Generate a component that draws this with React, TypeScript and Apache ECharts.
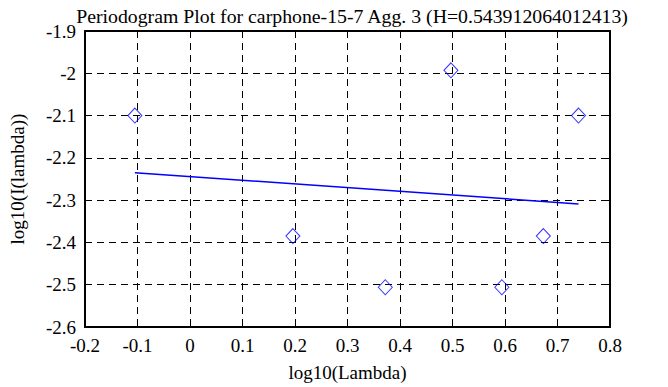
import React, { useEffect, useRef } from "react";
import * as echarts from "echarts";

const lambdaLog = [-0.105, 0.196, 0.372, 0.497, 0.594, 0.673, 0.74];
const periodogramLog = [-2.1, -2.385, -2.506, -1.993, -2.506, -2.385, -2.1];
const fitX = [-0.105, 0.74];
const fitY = [-2.235, -2.309];
const titleText = "Periodogram Plot for carphone-15-7 Agg. 3 (H=0.543912064012413)";

const FONT = "'Liberation Serif', 'Times New Roman', serif";

export default function App() {
  const ref = useRef<HTMLDivElement>(null);
  useEffect(() => {
    if (!ref.current) return;
    const chart = echarts.init(ref.current, undefined, { renderer: "svg" });
    const dash = { type: [7, 5] as any, color: "#000", width: 1 };
    const fmt = (v: number) => String(Math.round(v * 10) / 10);
    const frame = { show: true, onZero: false, lineStyle: { color: "#000", width: 2 } };
    const tick = { show: true, inside: true, length: 5, lineStyle: { color: "#000", width: 1 } };
    chart.setOption({
      animation: false,
      backgroundColor: "#fff",
      title: {
        text: titleText,
        left: 347,
        textAlign: "center",
        top: 1,
        textStyle: { fontFamily: FONT, fontSize: 19.8, fontWeight: "normal", color: "#000" },
      },
      grid: { left: 81, right: 58, top: 31, bottom: 56 },
      xAxis: [
        {
          type: "value",
          min: -0.2,
          max: 0.8,
          interval: 0.1,
          name: "log10(Lambda)",
          nameLocation: "middle",
          nameGap: 36,
          nameTextStyle: { fontFamily: FONT, fontSize: 19, color: "#000" },
          axisLine: frame,
          axisTick: tick,
          axisLabel: { fontFamily: FONT, fontSize: 19, color: "#000", margin: 9, formatter: fmt },
          splitLine: { show: true, lineStyle: dash },
        },
        {
          type: "value",
          position: "top",
          min: -0.2,
          max: 0.8,
          interval: 0.1,
          axisLine: frame,
          axisTick: tick,
          axisLabel: { show: false },
          splitLine: { show: false },
        },
      ],
      yAxis: [
        {
          type: "value",
          min: -2.6,
          max: -1.9,
          interval: 0.1,
          name: "log10(I(lambda))",
          nameLocation: "middle",
          nameGap: 58,
          nameTextStyle: { fontFamily: FONT, fontSize: 19, color: "#000" },
          axisLine: frame,
          axisTick: tick,
          axisLabel: { fontFamily: FONT, fontSize: 19, color: "#000", margin: 9, formatter: fmt },
          splitLine: { show: true, lineStyle: dash },
        },
        {
          type: "value",
          position: "right",
          min: -2.6,
          max: -1.9,
          interval: 0.1,
          axisLine: frame,
          axisTick: tick,
          axisLabel: { show: false },
          splitLine: { show: false },
        },
      ],
      series: [
        {
          type: "scatter",
          symbol: "diamond",
          symbolSize: [14, 15],
          data: lambdaLog.map((x, i) => [x, periodogramLog[i]]),
          itemStyle: { color: "rgba(0,0,0,0)", borderColor: "#0000ff", borderWidth: 1 },
          z: 5,
        },
        {
          type: "line",
          data: fitX.map((x, i) => [x, fitY[i]]),
          showSymbol: false,
          lineStyle: { color: "#0000ff", width: 1.5 },
          z: 4,
        },
      ],
    });
    return () => chart.dispose();
  }, []);
  return <div ref={ref} style={{ width: 668, height: 387, position: "absolute", left: 0, top: 0 }} />;
}
